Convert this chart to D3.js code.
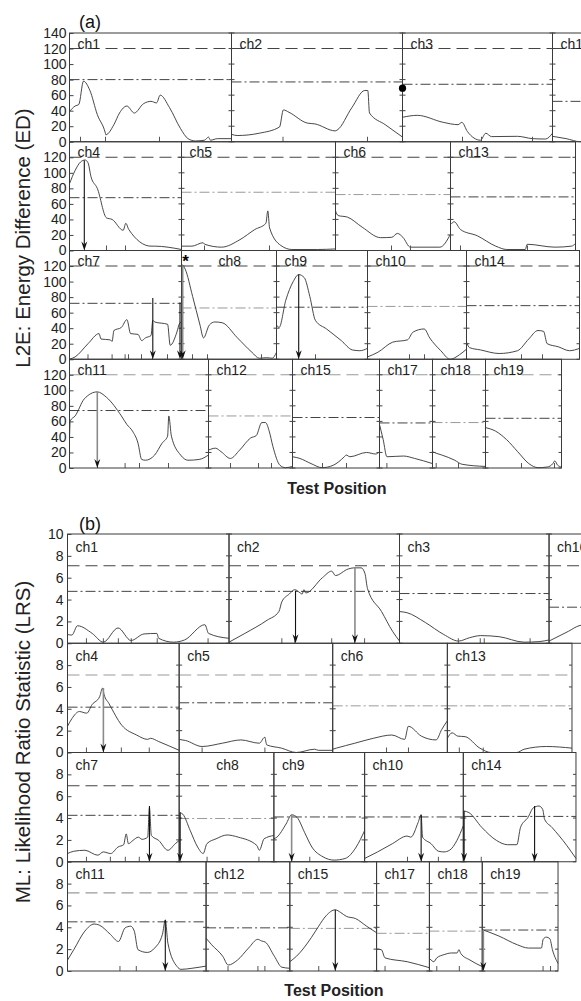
<!DOCTYPE html>
<html>
<head>
<meta charset="utf-8">
<title>L2E and ML genome scans</title>
<style>
  body { margin: 0; background: #fff; }
  svg { display: block; font-family: "Liberation Sans", Arial, sans-serif; }
</style>
<script src="https://cdnjs.cloudflare.com/ajax/libs/d3/7.8.5/d3.min.js"></script>
</head>
<body>
<div id="chart"></div>
<script>
// chromosomes laid out in four rows, lengths in test-position units
const rowsLayout = [
  ["ch1", "ch2", "ch3", "ch16"],
  ["ch4", "ch5", "ch6", "ch13"],
  ["ch7", "ch8", "ch9", "ch10", "ch14"],
  ["ch11", "ch12", "ch15", "ch17", "ch18", "ch19"]
];
const chromLength = [["ch1",162],["ch2",171],["ch3",150],["ch16",60],["ch4",112],["ch5",154],["ch6",115],["ch13",125],
  ["ch7",112],["ch8",95],["ch9",91],["ch10",99],["ch14",113],["ch11",139],["ch12",84],["ch15",87],["ch17",53],["ch18",53],["ch19",76]];

// (a) L2E energy difference
const ed_ch1 = [[0,39],[5.6,46],[9.3,48],[14,78],[20.4,66],[27.8,35],[35.9,11],[36.3,9],[44.4,22],[50,37],[57.4,46],[64.8,37],[74,49],[81.5,52],[87,50],[90.7,60],[100,44],[111,17],[118.5,4],[126,1],[135,2],[139,6],[141,2],[148,4],[162,4]];
const ed_ch2 = [[0,9.6],[5.6,8],[27.8,11],[48,19],[51.9,41],[57.4,38],[75.9,24],[83.3,23],[103.7,14],[105.6,15],[120.4,44],[133.3,66],[136.3,66],[138,37],[153.7,22],[171,6]];
const ed_ch3 = [[0,31.5],[14.8,34],[40.7,25],[55.6,22],[59.3,25],[65,13],[78,2],[83.3,11],[89,6.6],[115,7],[130,4],[143,3.5],[150,11]];
const ed_ch16 = [[0,7],[13.7,4],[27.8,0],[40,2],[60,3]];
const ed_ch4 = [[0,86],[5.6,103],[11.1,114],[15.6,116.5],[18.5,113],[21.5,95],[27.8,80],[37,42],[42.6,40],[53.7,26],[56.3,35],[59.3,27],[81.5,5.6],[85.2,5.6],[112,1.3]];
const ed_ch5 = [[0,5.6],[10.4,5.6],[21.5,10],[23.3,8],[40,4.3],[58.5,14],[73.3,27],[84.4,35],[86.3,51],[88.1,29],[99.3,6.5],[110.4,1.3],[136.3,1.3],[154,2]];
const ed_ch6 = [[0,51],[2.6,45],[11.9,43],[26.7,30],[45.2,16.5],[56.3,17],[61.9,22],[67.4,17],[74.8,4.3],[104.4,4.3],[115,21]];
const ed_ch13 = [[0.7,34],[3.7,37],[10,27],[26.7,19],[45.2,5.6],[56.3,1.3],[74.8,1.3],[76.7,8],[104.4,4.3],[121,5.6],[125,9]];
const ed_ch7 = [[0,0],[5.6,3],[18.5,20],[29.6,33],[31.5,26],[40.7,25],[42.6,23],[44.4,37],[51.9,41],[57.4,51],[61.1,33],[68.5,32],[72.2,24],[75.9,27.5],[81.5,30.5],[83.3,50],[85.2,48],[98.1,45],[100.7,18],[107.4,35],[110,46],[112,48]];
const ed_ch8 = [[0.7,122],[3.7,116],[11.1,81],[18.5,44],[22,27.5],[27.8,44],[33.3,48],[40.7,47],[55.6,28],[70.4,9],[77.8,1.3],[85.2,2],[90.7,1.3],[95,9]];
const ed_ch9 = [[0,44],[2.6,41],[9.3,76],[16.7,100],[22.2,109],[27.8,105],[33.3,81],[38.9,50],[50,39],[64.8,24],[75.9,12],[83.3,11],[91,14]];
const ed_ch10 = [[0,3],[10.4,9],[25.2,22],[40,25],[45.6,35],[56.7,39],[62.2,27.5],[73.3,11],[82.6,0],[91.9,5.7],[99,13]];
const ed_ch14 = [[0,22],[3,15],[14,12],[32.6,7.4],[51,11],[62.2,26],[71.5,37],[77,36],[80.7,20],[91.9,16],[103,11],[113,14]];
const ed_ch11 = [[0,36.5],[0.7,60.7],[5.6,67],[14.8,89],[27.8,98],[37,91],[51.9,67],[57.4,56],[63,47.5],[68.5,32],[72.2,11],[75.9,10],[85.2,16.7],[92.6,32],[98.1,41],[99.3,67],[101.9,41],[111.1,16.7],[118.5,10],[129.6,11],[139,16.7]];
const ed_ch12 = [[0,23],[7,25.5],[12.6,21],[21.9,12.3],[31.1,23],[42.2,38.7],[47.8,41.8],[53.3,58.5],[57,58.5],[60.7,47.5],[64.4,27.7],[71.5,3.5],[77,0.4],[84,2]];
const ed_ch15 = [[0,14.5],[7.4,12.3],[18.5,5.7],[29.6,0.4],[40.7,3.5],[51.9,14.5],[53.7,16.7],[57.4,14.5],[74,20],[83.3,18],[87,21]];
const ed_ch17 = [[0,56],[3.7,36.5],[7.4,14.5],[24,15.4],[35.2,12.3],[53,5.7]];
const ed_ch18 = [[0,21],[3.7,19],[9.3,16.7],[22.2,10],[29.6,4.8],[53,2]];
const ed_ch19 = [[0,52],[10,47.5],[21.1,36.5],[32.2,21],[43.3,5.7],[52.6,0.4],[61.9,1.3],[67.4,5.7],[69.3,9.2],[72.2,3.5],[76,1.3]];

const edUpper = 120;
const edLower = [["ch1",80],["ch2",77],["ch3",74],["ch16",52],["ch4",68],["ch5",75],["ch6",72],["ch13",69],
  ["ch7",72],["ch8",66],["ch9",67],["ch10",68],["ch14",69],["ch11",74],["ch12",67],["ch15",65],["ch17",58],["ch18",58.5],["ch19",64]];
const edArrows = [["ch4",14.8,116],["ch7",83.3,79],["ch7",110.5,73],["ch8",1.2,121],["ch9",22.2,109],["ch11",27.8,98]];
const edDot = [["ch2",171,69]];
const edStar = [["ch8",4,126]];
const edMarkers = [["ch1",[11,36,90]],["ch2",[51.5,136]],["ch3",[60,79,130]],["ch4",[15,37,56]],["ch5",[23,88]],["ch6",[56,75]],["ch13",[10,77]],
  ["ch7",[18.5,42.6,55.6,59,72,83,98]],["ch8",[11,26,80]],["ch9",[22,39]],["ch10",[42,57]],["ch14",[55,76]],
  ["ch11",[28,55.6,70,99]],["ch12",[22,50,63]],["ch15",[30,54]],["ch17",[7.4]],["ch18",[3.7,26]],["ch19",[36,69]]];

// (b) ML likelihood ratio statistic
const lrs_ch1 = [[0,0.8],[4.4,0.75],[10,1.6],[24.8,0.9],[35.9,0.1],[50.7,1.4],[63.7,0.25],[76.7,0.85],[89.6,0.9],[91.5,0.45],[106.3,0.1],[117.4,0.3],[137.8,1.7],[141.5,0.9],[162,0.45]];
const lrs_ch2 = [[0,0.1],[15.9,0.9],[38.1,2.1],[50,2.9],[53,3.8],[60.4,4.5],[65.9,4.9],[71.5,4.6],[73.3,4.5],[75.2,4.9],[77,4.6],[93.7,6],[103,6.6],[106.7,6.2],[119.6,6.8],[125.2,6.9],[132.6,6.9],[136.3,6.4],[138.9,5],[153,2.9],[164,1.1],[171,0.2]];
const lrs_ch3 = [[0,2.9],[7.4,2.8],[25.9,1.9],[44.4,0.8],[59.3,0.2],[70,0.5],[81.5,0.7],[100,0.6],[125,0.1],[140,0.15],[150,0.3]];
const lrs_ch16 = [[0,0.2],[19.6,1.1],[30,1.6],[45,1.8],[60,1.5]];
const lrs_ch4 = [[0,2.4],[4.4,3.1],[11.9,3.75],[19.3,3.6],[24.8,4.4],[32.2,5.1],[35.2,5.9],[36.7,5.3],[41.5,4.5],[54.4,2.5],[69.3,1.6],[80.4,1.2],[83.3,1.3],[91.5,1.0],[112,0.2]];
const lrs_ch5 = [[0,1.2],[6.3,1.1],[23,0.55],[43.3,0.85],[61.9,1.15],[80.4,0.85],[85.9,1.4],[87.8,0.7],[102.6,0.4],[117.4,0],[135.9,0.3],[139.6,0.2],[154,0.2]];
const lrs_ch6 = [[0,0.3],[3.7,0.4],[22.2,0.85],[40.7,1.3],[59.3,1.6],[72.2,1.2],[75.9,2.4],[88.9,1.5],[103.7,1.15],[109.3,2.1],[115,2.9]];
const lrs_ch13 = [[0,1.3],[4.8,1.8],[10.4,1.5],[17.8,1.45],[32.6,0.4],[43.7,0],[69.6,0],[77,0.3],[99.3,0.55],[125,0.4]];
const lrs_ch7 = [[0,0.75],[6.3,0.96],[17.4,1.05],[30.4,0.6],[35.9,0.9],[43.3,0.75],[50.7,1.35],[56.3,1.56],[58.9,2.55],[61.1,1.65],[65.6,1.95],[71.1,2.25],[74.8,2.05],[80.4,2.25],[82.2,4.95],[84.1,2.4],[91.5,1.95],[100.7,1.05],[108.1,1.65],[112,1.95]];
const lrs_ch8 = [[0.7,4.5],[3.7,4.35],[11.1,2.85],[18.5,1.35],[24.1,0.75],[27.8,1.65],[37,2.1],[48.1,2.45],[59.3,2.25],[77.8,1.5],[80.4,1.05],[85.2,2.1],[95,2.4]];
const lrs_ch9 = [[0,2.1],[3,2.25],[12.2,3.45],[17.8,4.3],[23.3,4.05],[30.7,2.7],[38.1,1.35],[49.3,0.45],[60.4,0.15],[71.5,0.3],[82.6,1.35],[91,2.85]];
const lrs_ch10 = [[0,0.3],[13,0.9],[27.8,1.65],[42.6,2.35],[46.3,2.25],[53.7,3.6],[56.7,4.3],[58.1,2.25],[66.7,1.65],[74.1,0.96],[79.6,0.9],[85.2,1.05],[92.6,1.95],[99,3.3]];
const lrs_ch14 = [[0.7,4.65],[5.6,4.5],[18.5,3.15],[33.3,1.95],[44.4,1.56],[53.7,1.56],[57.4,3.15],[64.8,4.05],[70.4,4.95],[75.9,5.1],[79.6,4.8],[81.5,3.9],[88.9,3.15],[103.7,1.5],[113,0.3]];
const lrs_ch11 = [[0,1.0],[6.3,1.95],[17.4,3.65],[26.7,4.3],[31.9,4.2],[43,3.35],[51.1,2.7],[57.8,3.95],[63.3,4.1],[67,3.65],[70.7,1.95],[80,1.7],[87.4,2.1],[95.2,3.35],[98.1,4.65],[100.7,2.55],[110,0.4],[113.7,0.15],[124.8,0.25],[139,0.45]];
const lrs_ch12 = [[0,3.0],[5.6,2.4],[16.7,1.35],[22.2,0.55],[31.5,1.0],[42.6,2.1],[51.9,2.9],[55.6,2.75],[59.3,2.65],[68.5,1.35],[75.9,0.35],[84,0.25]];
const lrs_ch15 = [[0,0.85],[6.7,1.35],[21.5,3.05],[28.9,4.1],[36.3,5.05],[45.6,5.6],[51.1,5.35],[56.7,5.0],[65.9,4.8],[77,4.1],[87,3.5]];
const lrs_ch17 = [[0,2.0],[4.8,1.95],[8.5,1.2],[30.7,0.85],[53,0.3]];
const lrs_ch18 = [[0.7,1.1],[4.4,0.85],[7.4,1.2],[14.8,1.5],[22.2,1.65],[27.8,1.65],[29.6,1.95],[31.5,1.6],[40.7,1.0],[53,0.4]];
const lrs_ch19 = [[1.1,3.75],[16.7,3.2],[35.2,2.4],[46.3,2.1],[59.3,2.1],[61.1,2.9],[64.1,3.1],[67.8,2.95],[70.4,1.95],[76,0.7]];

const lrsUpper = [["ch1",7.1],["ch2",7.1],["ch3",7.1],["ch16",7.1],["ch4",7.1],["ch5",7.1],["ch6",7.1],["ch13",7.1],
  ["ch7",6.95],["ch8",6.95],["ch9",6.95],["ch10",6.95],["ch14",6.95],["ch11",7.15],["ch12",7.15],["ch15",7.15],["ch17",7.15],["ch18",7.15],["ch19",7.15]];
const lrsLower = [["ch1",4.75],["ch2",4.75],["ch3",4.55],["ch16",3.3],["ch4",4.15],["ch5",4.55],["ch6",4.27],["ch13",4.27],
  ["ch7",4.25],["ch8",3.96],["ch9",4.1],["ch10",4.1],["ch14",4.15],["ch11",4.5],["ch12",3.95],["ch15",3.9],["ch17",3.45],["ch18",3.65],["ch19",3.75]];
const lrsArrows = [["ch2",66.7,4.8],["ch2",126.3,6.9],["ch4",36,5.9],["ch7",82.2,5.1],["ch8",1,4.5],["ch9",17.8,4.3],["ch10",56.7,4.3],
  ["ch14",0.8,4.65],["ch14",71.5,5.1],["ch11",98.1,4.7],["ch15",45.6,5.6],["ch19",1.1,3.75]];
const lrsMarkers = [["ch1",[19,36,51,64,90,141]],["ch2",[53,66,103,126,136]],["ch3",[59,81,85,131]],["ch4",[19,36,54,82]],["ch5",[23,86]],["ch6",[54,76]],["ch13",[12,36]],
  ["ch7",[19,43,58,72,82]],["ch8",[28,80]],["ch9",[18,36]],["ch10",[43,57,74]],["ch14",[18,71]],
  ["ch11",[52.6,69,98]],["ch12",[22,52,59]],["ch15",[29,45.6]],["ch17",[8.5]],["ch18",[7.4,30]],["ch19",[61,68.5]]];

// styling: which reference lines / arrows are drawn in grey
const grayLowerA = ["ch5","ch6","ch8","ch10","ch12","ch18"];
const grayUpperRowsA = [3];
const grayArrowsA = ["ch8","ch11"];
const grayLowerB = ["ch6","ch13","ch8","ch15","ch17","ch18"];
const grayUpperRowsB = [1, 3];
const grayArrowsB = [[ "ch2", 1 ], [ "ch4", 0 ], [ "ch9", 0 ], [ "ch19", 0 ]];

const W = 581, H = 1001;
const svg = d3.select("#chart").append("svg").attr("width", W).attr("height", H);

const lenMap = new Map(chromLength);
const INK = "#333";
const GRAY = "#9a9a9a";

function drawPanel(cfg) {
  const g = svg.append("g");
  const curveMap = new Map(cfg.curves);
  const lowerMap = new Map(cfg.lower);
  const upperMap = new Map(cfg.upper);
  const markerMap = new Map(cfg.markers);
  const rowInfo = {};

  rowsLayout.forEach((names, r) => {
    const total = d3.sum(names, n => lenMap.get(n));
    const x = d3.scaleLinear().domain([0, total]).range([cfg.left, cfg.left + total * cfg.k]);
    const top = cfg.top + r * cfg.rowH;
    const y = d3.scaleLinear().domain([0, cfg.yMax]).range([top + cfg.rowH, top]);
    const tickVals = r === 0 ? cfg.ticks : cfg.ticks.filter(t => t < cfg.yMax);
    const row = g.append("g");
    let off = 0;
    names.forEach((name, i) => {
      const len = lenMap.get(name);
      const o = off;
      rowInfo[name] = { x, y, o };
      const x0 = x(o), x1 = x(o + len);

      // reference lines
      const upperGray = cfg.grayUpperRows.includes(r);
      row.append("line")
        .attr("x1", x0).attr("x2", x1)
        .attr("y1", y(upperMap.get(name))).attr("y2", y(upperMap.get(name)))
        .attr("stroke", upperGray ? GRAY : "#444").attr("stroke-width", 1.1)
        .attr("stroke-dasharray", "12,6");
      row.append("line")
        .attr("x1", x0).attr("x2", x1)
        .attr("y1", y(lowerMap.get(name))).attr("y2", y(lowerMap.get(name)))
        .attr("stroke", cfg.grayLower.includes(name) ? GRAY : "#444").attr("stroke-width", 1)
        .attr("stroke-dasharray", "10,3,2,3");

      // curve
      const line = d3.line().x(d => x(o + d[0])).y(d => y(d[1])).curve(d3.curveMonotoneX);
      row.append("path")
        .datum(curveMap.get(name))
        .attr("d", line)
        .attr("fill", "none").attr("stroke", INK).attr("stroke-width", 0.9)
        .attr("stroke-linejoin", "round");

      // marker ticks on the baseline
      (markerMap.get(name) || []).forEach(m => {
        row.append("line")
          .attr("x1", x(o + m)).attr("x2", x(o + m))
          .attr("y1", y(0)).attr("y2", y(0) - 5)
          .attr("stroke", "#555").attr("stroke-width", 1);
      });

      // chromosome box
      row.append("rect")
        .attr("x", x0).attr("y", y(cfg.yMax))
        .attr("width", x1 - x0).attr("height", y(0) - y(cfg.yMax))
        .attr("fill", "none").attr("stroke", "#3a3a3a").attr("stroke-width", 1);

      // small y ticks on interior borders
      if (i > 0) {
        tickVals.forEach(t => {
          row.append("line")
            .attr("x1", x0 - 3).attr("x2", x0 + 3)
            .attr("y1", y(t)).attr("y2", y(t))
            .attr("stroke", "#444").attr("stroke-width", 1);
        });
      }
      if (i === names.length - 1) {
        tickVals.forEach(t => {
          row.append("line")
            .attr("x1", x1 - 3).attr("x2", x1)
            .attr("y1", y(t)).attr("y2", y(t))
            .attr("stroke", "#444").attr("stroke-width", 1);
        });
      }

      // chromosome label
      row.append("text")
        .attr("x", x0 + (name === "ch8" ? 37 : cfg.labelDx))
        .attr("y", top + cfg.labelDy)
        .attr("font-size", 14).attr("fill", "#222")
        .text(name);
      off += len;
    });

    // left axis
    const axis = row.append("g")
      .attr("transform", `translate(${cfg.left},0)`)
      .call(d3.axisLeft(y).tickValues(tickVals).tickSize(-4).tickPadding(cfg.tickPad));
    axis.select(".domain").remove();
    axis.selectAll(".tick line").attr("stroke", "#444");
    axis.selectAll(".tick text")
      .attr("font-size", 14).attr("font-family", "Liberation Sans, Arial, sans-serif").attr("fill", "#222");
  });

  // arrows
  cfg.arrows.forEach((a, idx) => {
    const [name, pos, val] = a;
    const { x, y, o } = rowInfo[name];
    const px = x(o + pos);
    const gray = cfg.isGrayArrow(name, idx);
    const col = gray ? "#8a8a8a" : "#111";
    svg.append("line")
      .attr("x1", px).attr("x2", px)
      .attr("y1", y(val)).attr("y2", y(0) - 6)
      .attr("stroke", col).attr("stroke-width", gray ? 1.6 : 1.1);
    svg.append("path")
      .attr("d", `M${px - 3},${y(0) - 9} L${px},${y(0)} L${px + 3},${y(0) - 9} L${px},${y(0) - 6} Z`)
      .attr("fill", "#111");
  });

  // panel tag
  svg.append("text")
    .attr("x", cfg.tagX).attr("y", cfg.tagY)
    .attr("font-size", 18).attr("fill", "#111")
    .text(cfg.tag);

  // axis titles
  svg.append("text")
    .attr("transform", `translate(${cfg.titleX},${cfg.titleY}) rotate(-90)`)
    .attr("text-anchor", "middle")
    .attr("font-size", 20.5).attr("fill", "#222")
    .text(cfg.yTitle);
  svg.append("text")
    .attr("x", cfg.xTitleX).attr("y", cfg.xTitleY)
    .attr("text-anchor", "middle")
    .attr("font-size", 16).attr("font-weight", "bold").attr("fill", "#222")
    .text("Test Position");

  return rowInfo;
}

const infoA = drawPanel({
  left: 69.5, k: 1.0, top: 33, rowH: 108.75, yMax: 140,
  ticks: d3.range(0, 141, 20), tickPad: 3,
  curves: [["ch1",ed_ch1],["ch2",ed_ch2],["ch3",ed_ch3],["ch16",ed_ch16],["ch4",ed_ch4],["ch5",ed_ch5],["ch6",ed_ch6],["ch13",ed_ch13],
    ["ch7",ed_ch7],["ch8",ed_ch8],["ch9",ed_ch9],["ch10",ed_ch10],["ch14",ed_ch14],["ch11",ed_ch11],["ch12",ed_ch12],["ch15",ed_ch15],["ch17",ed_ch17],["ch18",ed_ch18],["ch19",ed_ch19]],
  lower: edLower, upper: chromLength.map(c => [c[0], edUpper]),
  markers: edMarkers, arrows: edArrows,
  grayLower: grayLowerA, grayUpperRows: grayUpperRowsA,
  isGrayArrow: (name) => grayArrowsA.includes(name),
  labelDx: 8, labelDy: 15.5,
  tag: "(a)", tagX: 79, tagY: 28,
  yTitle: "L2E: Energy Difference (ED)", titleX: 30, titleY: 238,
  xTitleX: 337, xTitleY: 494
});

// filled dot and star in panel (a)
edDot.forEach(([name, pos, val]) => {
  const { x, y, o } = infoA[name];
  svg.append("circle").attr("cx", x(o + pos)).attr("cy", y(val)).attr("r", 3.6).attr("fill", "#000");
});
edStar.forEach(([name, pos, val]) => {
  const { x, y, o } = infoA[name];
  svg.append("text").attr("x", x(o + pos)).attr("y", y(val) + 6)
    .attr("text-anchor", "middle").attr("font-size", 17).attr("font-weight", "bold").text("*");
});

drawPanel({
  left: 67.5, k: 0.997, top: 534, rowH: 109.25, yMax: 10,
  ticks: d3.range(0, 11, 2), tickPad: 4,
  curves: [["ch1",lrs_ch1],["ch2",lrs_ch2],["ch3",lrs_ch3],["ch16",lrs_ch16],["ch4",lrs_ch4],["ch5",lrs_ch5],["ch6",lrs_ch6],["ch13",lrs_ch13],
    ["ch7",lrs_ch7],["ch8",lrs_ch8],["ch9",lrs_ch9],["ch10",lrs_ch10],["ch14",lrs_ch14],["ch11",lrs_ch11],["ch12",lrs_ch12],["ch15",lrs_ch15],["ch17",lrs_ch17],["ch18",lrs_ch18],["ch19",lrs_ch19]],
  lower: lrsLower, upper: lrsUpper,
  markers: lrsMarkers, arrows: lrsArrows,
  grayLower: grayLowerB, grayUpperRows: grayUpperRowsB,
  isGrayArrow: (name, idx) => {
    const nth = lrsArrows.slice(0, idx).filter(a => a[0] === name).length;
    return grayArrowsB.some(g => g[0] === name && g[1] === nth);
  },
  labelDx: 8, labelDy: 17.5,
  tag: "(b)", tagX: 79, tagY: 530,
  yTitle: "ML: Likelihood Ratio Statistic (LRS)", titleX: 30, titleY: 742,
  xTitleX: 334, xTitleY: 996
});
</script>
</body>
</html>
